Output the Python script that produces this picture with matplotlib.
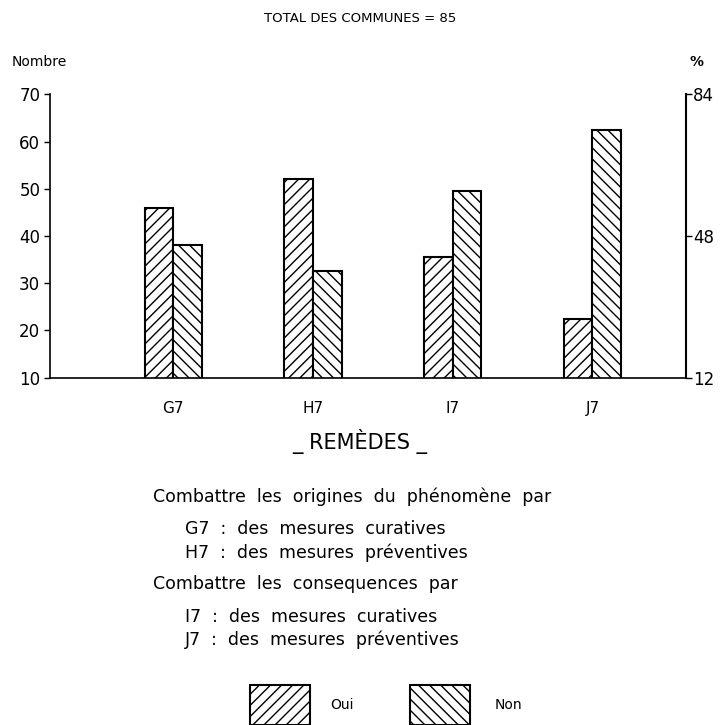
import matplotlib
matplotlib.use("Agg")
import matplotlib.pyplot as plt
from matplotlib.patches import Rectangle

categories = ["G7", "H7", "I7", "J7"]
oui = [46, 52, 35.5, 22.5]
non = [38, 32.5, 49.5, 62.5]
left_ticks = [10, 20, 30, 40, 50, 60, 70]
right_ticks = [12, 48, 84]

plt.rcParams['hatch.linewidth'] = 1.0
fig = plt.figure(figsize=(7.2, 7.25), dpi=100)
ax = fig.add_axes([50/720, 1-377.7/725, (686-50)/720, (377.7-94.3)/725])

x = list(range(len(categories)))
w = 0.205
ax.bar([i - w/2 for i in x], oui, width=w, bottom=0, color="white",
       edgecolor="black", linewidth=1.5, hatch="///")
ax.bar([i + w/2 for i in x], non, width=w, bottom=0, color="white",
       edgecolor="black", linewidth=1.5, hatch="\\\\\\")
ax.set_ylim(10, 70)
ax.set_xlim(-0.883, 3.67)
ax.set_yticks(left_ticks)
ax.set_xticks(x)
ax.set_xticklabels(categories, fontsize=11)
ax.tick_params(axis='x', length=0, pad=17)
ax.tick_params(axis='y', length=4, width=1, labelsize=12, pad=3)
ax.spines['top'].set_visible(False)
ax.spines['right'].set_visible(False)
for s in ['left', 'bottom']:
    ax.spines[s].set_linewidth(1.2)

ax2 = ax.twinx()
ax2.set_ylim(12, 84)
ax2.set_yticks(right_ticks)
ax2.tick_params(axis='y', length=4, width=1, labelsize=12, pad=1)
for s in ['top', 'left', 'bottom']:
    ax2.spines[s].set_visible(False)
ax2.spines['right'].set_linewidth(1.5)

fig.text(360/720, 1-18/725, "TOTAL DES COMMUNES = 85", ha="center", va="center", fontsize=9.5)
fig.text(12/720, 1-62/725, "Nombre", ha="left", va="center", fontsize=10)
fig.text(690/720, 1-62/725, "%", ha="left", va="center", fontsize=10, fontweight="bold")
fig.text(360/720, 1-442/725, "_ REMÈDES _", ha="center", va="center", fontsize=15)

lines = [
    (153, 497, "Combattre  les  origines  du  phénomène  par"),
    (185, 529, "G7  :  des  mesures  curatives"),
    (185, 553, "H7  :  des  mesures  préventives"),
    (153, 584, "Combattre  les  consequences  par"),
    (185, 617, "I7  :  des  mesures  curatives"),
    (185, 640, "J7  :  des  mesures  préventives"),
]
for lx, ly, t in lines:
    fig.text(lx/720, 1-ly/725, t, ha="left", va="center", fontsize=12.5)

# legend
for bx, hatch, label, tx in [(250, "///", "Oui", 330), (410, "\\\\\\", "Non", 495)]:
    r = Rectangle((bx/720, 1-725/725), 60/720, 40/725, transform=fig.transFigure,
                  facecolor="white", edgecolor="black", linewidth=1.5, hatch=hatch)
    fig.add_artist(r)
    fig.text(tx/720, 1-705/725, label, ha="left", va="center", fontsize=10)

fig.savefig("out.png", dpi=100)
